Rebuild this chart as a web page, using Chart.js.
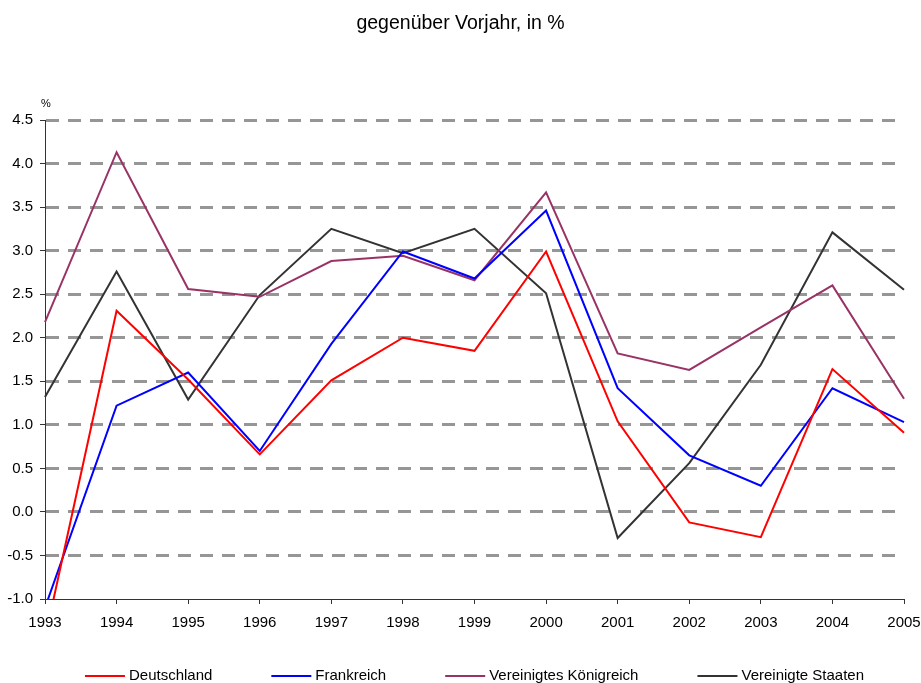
<!DOCTYPE html>
<html lang="de">
<head>
<meta charset="utf-8">
<title>BIP-Wachstum</title>
<script src="https://cdn.jsdelivr.net/npm/chart.js@4/dist/chart.umd.min.js"></script>
<style>
    html, body { margin: 0; padding: 0; background: #fff; }
    #wrap { width: 921px; height: 683px; }
</style>
</head>
<body>
<div id="wrap"><canvas id="mainChart" width="921" height="683"></canvas></div>
<script>
// ========== Daten ==========
const years = ['1993', '1994', '1995', '1996', '1997', '1998', '1999', '2000', '2001', '2002', '2003', '2004', '2005'];

const deutschland = [-1.45, 2.31, 1.52, 0.66, 1.51, 2.00, 1.85, 2.99, 1.04, -0.12, -0.29, 1.64, 0.91];
const frankreich = [-1.10, 1.22, 1.60, 0.70, 1.93, 2.99, 2.68, 3.46, 1.42, 0.65, 0.30, 1.42, 1.03];
const vereinigtesKoenigreich = [2.18, 4.13, 2.56, 2.47, 2.88, 2.94, 2.66, 3.67, 1.82, 1.63, 2.12, 2.60, 1.30];
const vereinigteStaaten = [1.32, 2.76, 1.29, 2.49, 3.25, 2.97, 3.25, 2.51, -0.30, 0.56, 1.69, 3.21, 2.55];

const seriesNames = ['Deutschland', 'Frankreich', 'Vereinigtes Königreich', 'Vereinigte Staaten'];
const seriesColors = ['#ff0000', '#0000ff', '#993366', '#333333'];

const yMin = -1.0;
const yMax = 4.5;
const yStep = 0.5;

const FONT = '"Liberation Sans", Arial, sans-serif';

// Legende unten, Linie + Text, zentriert unter der Zeichenfläche
const bottomLegend = {
    id: 'bottomLegend',
    afterDraw(chart) {
        const ctx = chart.ctx;
        const area = chart.chartArea;
        const lineLen = 40, textGap = 4, itemGap = 59, y = 676;
        ctx.save();
        ctx.font = '15px ' + FONT;
        const widths = chart.data.datasets.map(ds => lineLen + textGap + ctx.measureText(ds.label).width);
        const total = widths.reduce((a, b) => a + b, 0) + itemGap * (widths.length - 1);
        let x = (area.left + area.right) / 2 - total / 2;
        chart.data.datasets.forEach((ds, i) => {
            ctx.strokeStyle = ds.borderColor;
            ctx.lineWidth = 2;
            ctx.beginPath();
            ctx.moveTo(x, y);
            ctx.lineTo(x + lineLen, y);
            ctx.stroke();
            ctx.fillStyle = '#000';
            ctx.textBaseline = 'middle';
            ctx.textAlign = 'left';
            ctx.fillText(ds.label, x + lineLen + textGap, y);
            x += widths[i] + itemGap;
        });
        ctx.restore();
    }
};

// Einheit "%" über der y-Achse
const unitLabel = {
    id: 'unitLabel',
    afterDraw(chart) {
        const ctx = chart.ctx;
        ctx.save();
        ctx.font = '11px ' + FONT;
        ctx.fillStyle = '#000';
        ctx.textAlign = 'center';
        ctx.textBaseline = 'middle';
        ctx.fillText('%', chart.chartArea.left + 1, 104);
        ctx.restore();
    }
};

const datasets = [deutschland, frankreich, vereinigtesKoenigreich, vereinigteStaaten].map((values, i) => ({
    label: seriesNames[i],
    data: values,
    borderColor: seriesColors[i],
    backgroundColor: seriesColors[i],
    borderWidth: 2,
    pointRadius: 0,
    pointHoverRadius: 0,
    tension: 0,
    fill: false,
    clip: { left: 2, top: 2, right: 2, bottom: 0 }
}));

const ctx = document.getElementById('mainChart');
new Chart(ctx, {
    type: 'line',
    data: { labels: years, datasets: datasets },
    options: {
        responsive: false,
        animation: false,
        events: [],
        layout: { padding: 0 },
        plugins: {
            legend: { display: false },
            tooltip: { enabled: false },
            title: {
                display: true,
                text: 'gegenüber Vorjahr, in %',
                color: '#000',
                font: { family: FONT, size: 19.5, weight: 'normal' },
                padding: { top: 12, bottom: 84.6 }
            }
        },
        scales: {
            x: {
                offset: false,
                grid: {
                    drawOnChartArea: false,
                    tickLength: 5,
                    tickColor: '#333',
                    tickWidth: 1
                },
                border: { color: '#333', width: 1 },
                ticks: {
                    color: '#000',
                    font: { family: FONT, size: 15 },
                    padding: 10,
                    maxRotation: 0,
                    autoSkip: false
                },
                afterFit(scale) {
                    // feste Höhe und rechter Rand, damit 2005 bei x=904 liegt
                    scale.height = 84;
                    scale.paddingLeft = 0;
                    scale.paddingRight = 17;
                }
            },
            y: {
                min: yMin,
                max: yMax,
                grid: {
                    color: c => (c.tick && c.tick.value === yMin ? 'rgba(0,0,0,0)' : '#969696'),
                    lineWidth: 3,
                    tickLength: 5,
                    tickColor: '#333',
                    tickWidth: 1,
                    tickBorderDash: []
                },
                border: { color: '#333', width: 1, dash: [13, 9] },
                ticks: {
                    stepSize: yStep,
                    color: '#000',
                    font: { family: FONT, size: 15 },
                    padding: 7,
                    callback: v => Number(v).toFixed(1)
                },
                afterFit(scale) { scale.width = 45; }
            }
        }
    },
    plugins: [bottomLegend, unitLabel]
});
</script>
</body>
</html>
